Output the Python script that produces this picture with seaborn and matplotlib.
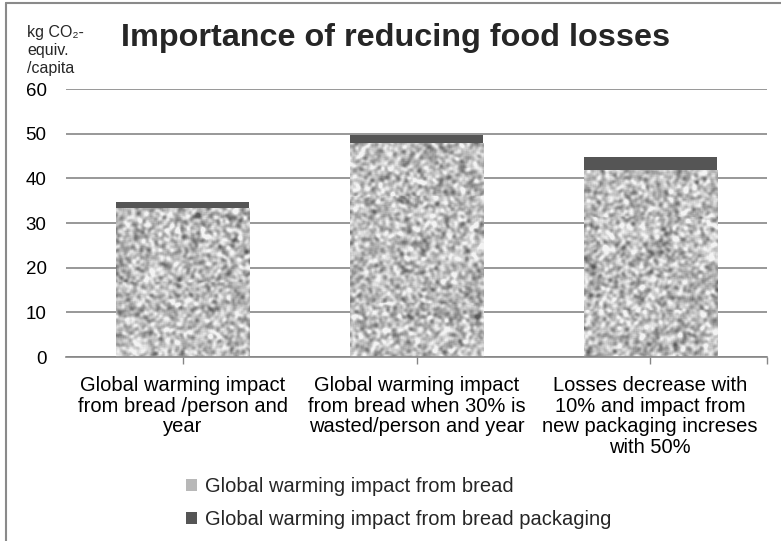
import numpy as np
import pandas as pd
import matplotlib
matplotlib.use("Agg")
import matplotlib.pyplot as plt
from matplotlib.lines import Line2D
from matplotlib.patches import Patch
import seaborn as sns

# ---- data ----
categories = [
    "Global warming impact\nfrom bread /person and\nyear",
    "Global warming impact\nfrom bread when 30% is\nwasted/person and year",
    "Losses decrease with\n10% and impact from\nnew packaging increses\nwith 50%",
]
bread = [33.4, 47.9, 41.8]
packaging = [1.3, 1.9, 2.9]
yticks = [0, 10, 20, 30, 40, 50, 60]
series_names = ["Global warming impact from bread",
                "Global warming impact from bread packaging"]
title = "Importance of reducing food losses"
ylabel = "kg CO\u2082-\nequiv.\n/capita"

df = pd.DataFrame({"cat": categories, "bread": bread, "pack": packaging})
df["total"] = df["bread"] + df["pack"]

sns.set_theme(style="white")
plt.rcParams["font.family"] = ["Liberation Sans", "DejaVu Sans"]

fig = plt.figure(figsize=(7.81, 5.41), dpi=100)
ax = fig.add_axes([66 / 781, 1 - 357 / 541, (767 - 66) / 781, (357 - 89) / 541])

PACK_COLOR = "#555555"
sns.barplot(data=df, x="cat", y="total", color=PACK_COLOR, saturation=1,
            width=0.57, ax=ax, zorder=3, linewidth=0)
n_before = len(ax.patches)
sns.barplot(data=df, x="cat", y="bread", color="#b8b8b8", saturation=1,
            width=0.57, ax=ax, zorder=4, linewidth=0)
bread_patches = ax.patches[n_before:]

# granite-like texture on the bread bars (styling only)
rng = np.random.default_rng(3)
def texture(h, w):
    pad = 4
    a = rng.random((h + 2 * pad, w + 2 * pad))
    k = np.array([1, 2, 3, 3, 2, 1], float)
    k /= k.sum()
    a = np.apply_along_axis(lambda r: np.convolve(r, k, mode="same"), 0, a)
    a = np.apply_along_axis(lambda r: np.convolve(r, k, mode="same"), 1, a)
    a = a[pad:-pad, pad:-pad]
    a = (a - a.mean()) / a.std()
    v = 0.74 + 0.11 * a
    return np.clip(v, 0.35, 0.95)

for p in bread_patches:
    x0, y0 = p.get_x(), p.get_y()
    w, h = p.get_width(), p.get_height()
    img = texture(int(round(h * 4.47)) + 2, 134)
    im = ax.imshow(img, cmap="gray", vmin=0, vmax=1, aspect="auto",
                   extent=(x0, x0 + w, y0, y0 + h), zorder=5,
                   interpolation="nearest")
    im.set_clip_path(p)

ax.set_xlim(-0.5, 2.5)
ax.set_ylim(0, 60)
ax.set_yticks(yticks)
ax.set_yticklabels([str(v) for v in yticks])
ax.grid(axis="y", color="#868686", linewidth=1.2, zorder=0)
ax.grid(axis="x", visible=False)
for s in ["left", "top", "right"]:
    ax.spines[s].set_visible(False)
ax.spines["bottom"].set_color("#868686")
ax.spines["bottom"].set_linewidth(1.2)
ax.spines["bottom"].set_zorder(6)
ax.set_xlabel("")
ax.set_ylabel("")
ax.tick_params(axis="y", length=0, pad=14, labelsize=13.5, labelcolor="black")
ax.tick_params(axis="x", bottom=True, length=5, width=1, color="#868686",
               pad=9, labelsize=14.5, labelcolor="black")
ax.set_xticks([0, 1, 2, 2.5])
ax.set_xticklabels(categories + [""], linespacing=1.1)
for lbl in ax.get_xticklabels():
    lbl.set_horizontalalignment("center")

fig.text(396 / 781, 1 - 38 / 541, title, ha="center", va="center",
         fontsize=23.3, fontweight="bold")
fig.text(27 / 781, 1 - 25 / 541, ylabel, ha="left", va="top",
         fontsize=11.5, linespacing=1.25)

handles = [Patch(facecolor="#b8b8b8", edgecolor="none"),
           Patch(facecolor=PACK_COLOR, edgecolor="none")]
fig.legend(handles, series_names, loc="upper left",
           bbox_to_anchor=(178 / 781, 1 - 469 / 541), frameon=False,
           fontsize=14.5, handlelength=0.55, handleheight=0.55,
           handletextpad=0.4, labelspacing=0.7, borderaxespad=0)

# outer frame
fig.add_artist(Line2D([6 / 781, 1], [1 - 3 / 541, 1 - 3 / 541],
                      transform=fig.transFigure, color="#8a8a8a", lw=1.5))
fig.add_artist(Line2D([6 / 781, 6 / 781], [0, 1 - 3 / 541],
                      transform=fig.transFigure, color="#8a8a8a", lw=1.5))

fig.savefig("out.png", dpi=100)
